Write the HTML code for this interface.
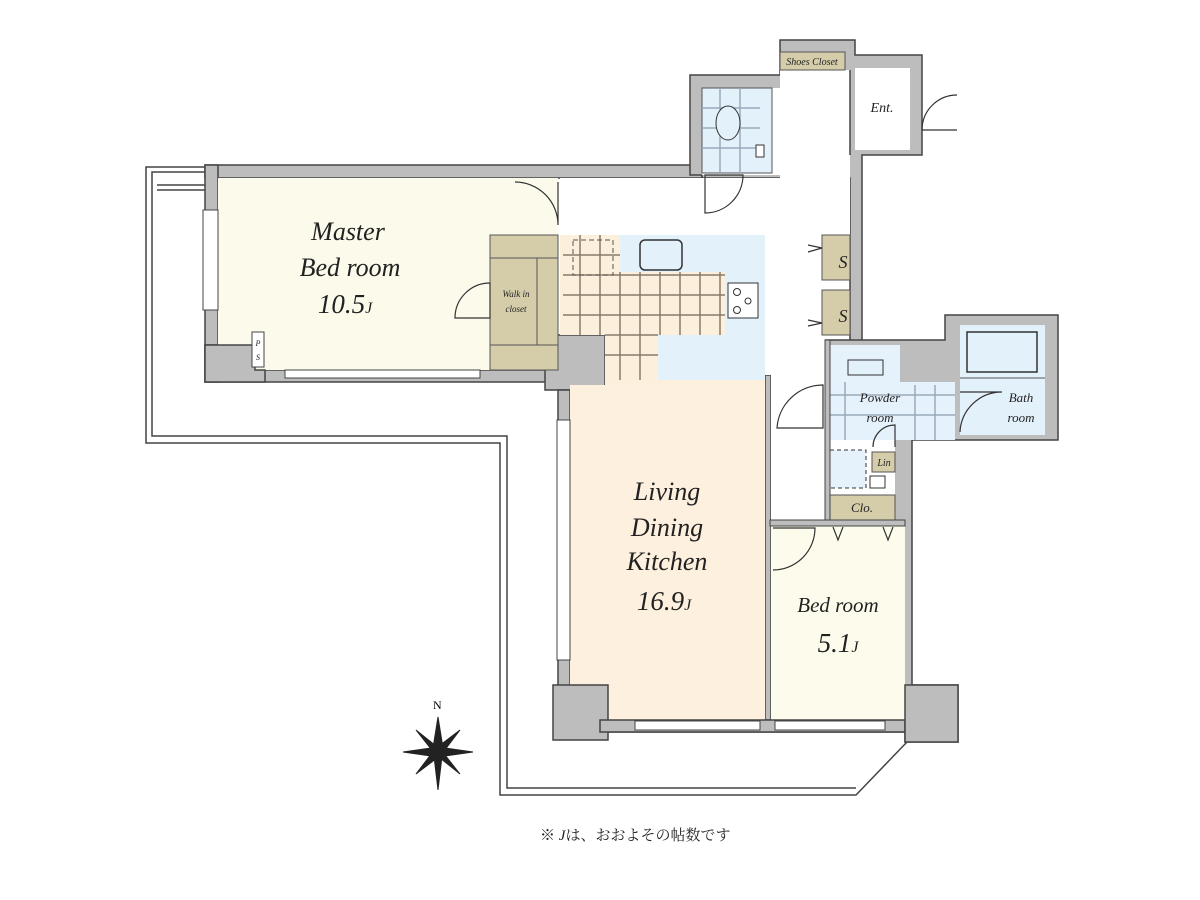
<!DOCTYPE html>
<html><head><meta charset="utf-8"><style>
html,body{margin:0;padding:0;background:#fff;width:1200px;height:900px;overflow:hidden}
svg{display:block}
.t{font-family:"Liberation Serif","Noto Serif CJK SC",serif;font-style:italic;fill:#222}
</style></head><body>
<svg width="1200" height="900" viewBox="0 0 1200 900" xmlns="http://www.w3.org/2000/svg">
<g fill="none" stroke="#444" stroke-width="1.5">
<polyline points="205,167 146,167 146,443 500,443 500,795 856,795 907,742"/>
<polyline points="205,172 152,172 152,436 507,436 507,788 856,788"/>
<line x1="157" y1="185" x2="205" y2="185"/><line x1="157" y1="190" x2="205" y2="190"/>
</g>
<g fill="#bdbdbd" stroke="#444" stroke-width="1.5">
<rect x="205" y="165" width="497" height="13"/>
<rect x="205" y="165" width="13" height="217"/>
<polygon points="205,345 255,345 255,370 550,370 550,382 205,382"/>
<rect x="545" y="335" width="60" height="55"/>
<rect x="558" y="390" width="12" height="300"/>
<polygon points="690,75 780,75 780,40 855,40 855,55 922,55 922,155 862,155 862,345 850,345 850,178 702,178 702,175 690,175"/>
<polygon points="825,340 945,340 945,315 1058,315 1058,440 912,440 912,685 958,685 958,742 905,742 905,732 600,732 600,720 895,720 895,520 825,520"/>
<rect x="765" y="375" width="6" height="345"/>
</g>
<g stroke="none">
<rect x="218" y="178" width="340" height="192" fill="#fcfaea"/>
<rect x="560" y="178" width="290" height="57" fill="#fff"/>
<rect x="771" y="235" width="54" height="290" fill="#fff"/>
<rect x="765" y="235" width="60" height="140" fill="#fff"/>
<rect x="780" y="70" width="70" height="108" fill="#fff"/>
<rect x="702" y="88" width="78" height="87" fill="#fff"/>
<rect x="855" y="68" width="55" height="82" fill="#fff"/>
<rect x="570" y="385" width="195" height="335" fill="#fdf0de"/>
<rect x="771" y="526" width="134" height="194" fill="#fdfcec"/>
<rect x="605" y="235" width="160" height="150" fill="#fcefdc"/>
<rect x="560" y="235" width="45" height="100" fill="#fcefdc"/>
<rect x="830" y="345" width="70" height="95" fill="#e6f2fb"/>
<rect x="830" y="382" width="125" height="58" fill="#e6f2fb"/>
<rect x="960" y="325" width="85" height="110" fill="#e3f1fb"/>
<rect x="830" y="440" width="65" height="55" fill="#fff"/>
</g>
<line x1="850" y1="70" x2="850" y2="155" stroke="#444" stroke-width="1.5"/>
<g fill="#bdbdbd" stroke="#444" stroke-width="1.5">
<polygon points="205,345 255,345 255,370 265,370 265,382 205,382"/>
<rect x="553" y="685" width="55" height="55"/>
<rect x="600" y="720" width="305" height="12"/>
<rect x="905" y="685" width="53" height="57"/>
</g>
<polygon points="620,235 765,235 765,380 658,380 658,335 725,335 725,272 620,272" fill="#e3f1fb"/>
<rect x="490" y="235" width="68" height="135" fill="#d5ccaa" stroke="#555"/>
<line x1="490" y1="258" x2="558" y2="258" stroke="#555"/><line x1="490" y1="345" x2="558" y2="345" stroke="#555"/>
<line x1="537" y1="258" x2="537" y2="345" stroke="#555"/>
<g stroke="#8a7a6a" stroke-width="1.5">
<line x1="580" y1="235" x2="580" y2="335"/><line x1="600" y1="235" x2="600" y2="335"/><line x1="620" y1="272" x2="620" y2="380"/><line x1="640" y1="272" x2="640" y2="380"/>
<line x1="660" y1="272" x2="660" y2="335"/><line x1="680" y1="272" x2="680" y2="335"/><line x1="700" y1="272" x2="700" y2="335"/><line x1="720" y1="272" x2="720" y2="335"/>
<line x1="563" y1="255" x2="620" y2="255"/><line x1="563" y1="275" x2="725" y2="275"/><line x1="563" y1="295" x2="725" y2="295"/><line x1="563" y1="315" x2="725" y2="315"/>
<line x1="605" y1="335" x2="658" y2="335"/><line x1="605" y1="355" x2="658" y2="355"/>
</g>
<rect x="573" y="240" width="40" height="35" fill="none" stroke="#555" stroke-dasharray="5,3"/>
<rect x="640" y="240" width="42" height="30" rx="5" fill="#e3f1fb" stroke="#333" stroke-width="1.5"/>
<rect x="728" y="283" width="30" height="35" fill="#fff" stroke="#333"/>
<circle cx="737" cy="292" r="3.5" fill="none" stroke="#333"/><circle cx="737" cy="310" r="3.5" fill="none" stroke="#333"/><circle cx="748" cy="301" r="3" fill="none" stroke="#333"/>
<rect x="702" y="88" width="70" height="85" fill="#e3f1fb" stroke="#555"/>
<g stroke="#9ab" stroke-width="1.5"><line x1="702" y1="108" x2="760" y2="108"/><line x1="702" y1="128" x2="760" y2="128"/><line x1="702" y1="148" x2="760" y2="148"/><line x1="720" y1="88" x2="720" y2="173"/><line x1="740" y1="88" x2="740" y2="173"/></g>
<ellipse cx="728" cy="123" rx="12" ry="17" fill="#e3f1fb" stroke="#333"/>
<rect x="756" y="145" width="8" height="12" fill="#fff" stroke="#333"/>
<rect x="967" y="332" width="70" height="40" fill="#e3f1fb" stroke="#333" stroke-width="1.5"/>
<line x1="960" y1="378" x2="1045" y2="378" stroke="#555"/>
<rect x="848" y="360" width="35" height="15" fill="#e3f1fb" stroke="#333"/>
<g stroke="#9ab" stroke-width="1.5"><line x1="830" y1="395" x2="955" y2="395"/><line x1="830" y1="415" x2="955" y2="415"/><line x1="845" y1="382" x2="845" y2="440"/><line x1="915" y1="385" x2="915" y2="440"/><line x1="935" y1="385" x2="935" y2="440"/></g>
<rect x="830" y="450" width="36" height="38" fill="#e6f2fb" stroke="#333" stroke-dasharray="4,3"/>
<rect x="872" y="452" width="23" height="20" fill="#d5ccaa" stroke="#555"/>
<rect x="870" y="476" width="15" height="12" fill="#fff" stroke="#333"/>
<rect x="827" y="495" width="68" height="25" fill="#d5ccaa" stroke="#555"/>
<rect x="822" y="235" width="28" height="45" fill="#d5ccaa" stroke="#555"/>
<rect x="822" y="290" width="28" height="45" fill="#d5ccaa" stroke="#555"/>
<rect x="780" y="52" width="65" height="18" fill="#d5ccaa" stroke="#555"/>
<rect x="825" y="340" width="5" height="185" fill="#bdbdbd" stroke="#444"/>
<rect x="770" y="520" width="135" height="6" fill="#bdbdbd" stroke="#444"/>
<g fill="#fff" stroke="#444">
<rect x="203" y="210" width="15" height="100"/>
<rect x="285" y="370" width="195" height="8"/>
<rect x="635" y="721" width="125" height="9"/>
<rect x="775" y="721" width="110" height="9"/>
<rect x="557" y="420" width="13" height="240"/>
<rect x="252" y="332" width="12" height="35"/>
</g>
<g fill="none" stroke="#333" stroke-width="1.2">
<path d="M515,182 A43,43 0 0 1 558,225 L558,182"/>
<path d="M455,318 A35,35 0 0 1 490,283 L490,318 Z"/>
<path d="M705,213 A38,38 0 0 0 743,175 L705,175 Z"/>
<path d="M922,130 A35,35 0 0 1 957,95 M922,130 L957,130"/>
<path d="M777,428 A46,46 0 0 1 823,385 L823,428 Z"/>
<path d="M960,432 A42,42 0 0 1 1002,392 L960,392"/>
<path d="M873,447 A22,22 0 0 1 895,425 L895,447"/>
<path d="M773,570 A42,42 0 0 0 815,528 L773,528"/>
<path d="M808,245 L822,248 L808,252 M808,320 L822,323 L808,326"/>
<path d="M833,527 L838,540 L843,527 M883,527 L888,540 L893,527"/>
</g>
<g fill="#222" stroke="#222">
<polygon points="438,717 443,748 438,790 433,748"/>
<polygon points="403,752 438,747 473,752 438,757"/>
<polygon points="416,730 441,750 460,774 435,754"/>
<polygon points="460,730 441,755 416,774 435,749"/>
</g>
<text x="433" y="709" font-family="Liberation Serif,serif" font-size="12">N</text>
<g class="t" text-anchor="middle">
<text x="348" y="240" font-size="26">Master</text>
<text x="350" y="276" font-size="26">Bed room</text>
<text x="345" y="313" font-size="27">10.5<tspan font-size="16">J</tspan></text>
<text x="667" y="500" font-size="26">Living</text>
<text x="667" y="536" font-size="26">Dining</text>
<text x="667" y="570" font-size="26">Kitchen</text>
<text x="664" y="610" font-size="27">16.9<tspan font-size="16">J</tspan></text>
<text x="838" y="612" font-size="21">Bed room</text>
<text x="838" y="652" font-size="27">5.1<tspan font-size="16">J</tspan></text>
<text x="516" y="297" font-size="9">Walk in</text>
<text x="516" y="312" font-size="9">closet</text>
<text x="812" y="65" font-size="10">Shoes Closet</text>
<text x="882" y="112" font-size="14">Ent.</text>
<text x="880" y="402" font-size="13">Powder</text>
<text x="880" y="422" font-size="13">room</text>
<text x="1021" y="402" font-size="13">Bath</text>
<text x="1021" y="422" font-size="13">room</text>
<text x="884" y="466" font-size="10">Lin</text>
<text x="862" y="512" font-size="13">Clo.</text>
<text x="843" y="268" font-size="18">S</text>
<text x="843" y="322" font-size="18">S</text>
<text x="258" y="346" font-size="8">P</text>
<text x="258" y="360" font-size="8">S</text>
</g>
<text x="540" y="840" font-family="Liberation Serif,'Noto Serif CJK SC',serif" font-size="15" fill="#222">※ <tspan font-style="italic">J</tspan>は、おおよその帖数です</text>
</svg>
</body></html>
